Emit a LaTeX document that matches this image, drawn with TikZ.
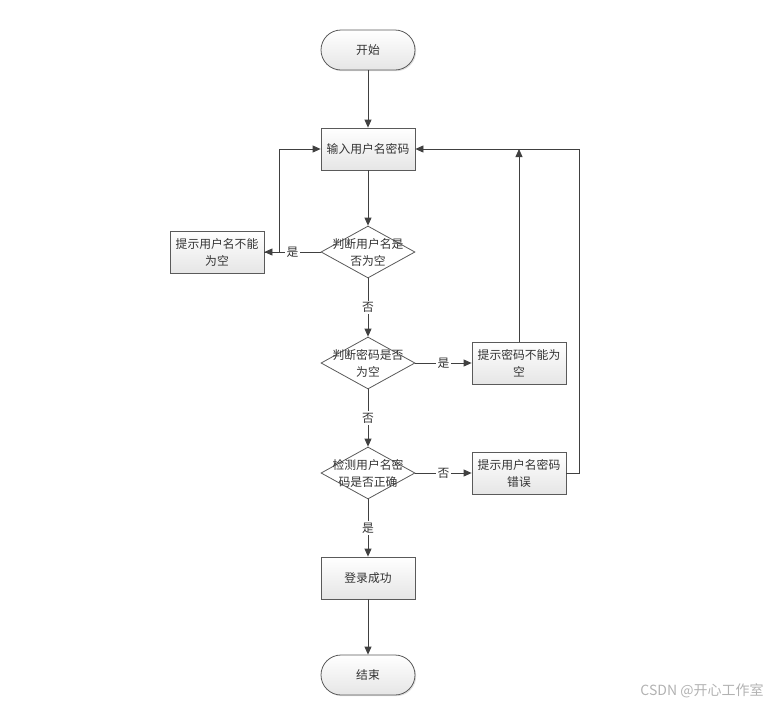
\documentclass[tikz,border=0pt]{standalone}
\usepackage{fontspec}
\setmainfont{Noto Sans CJK SC}
\usetikzlibrary{shapes.geometric,arrows.meta,shadows}

\definecolor{linegray}{HTML}{404040}
\definecolor{boxgray}{HTML}{5A5A5A}
\definecolor{txtgray}{HTML}{333333}

\begin{document}
\begin{tikzpicture}[>={Triangle[width=7pt,length=8pt]}, line width=0.8pt, draw=linegray,
  every node/.style={font=\fontsize{11.8pt}{17pt}\selectfont, text=txtgray},
  proc/.style={rectangle, draw=boxgray, top color=white, bottom color=black!10, minimum width=94pt, minimum height=42pt, align=center, inner sep=1pt, drop shadow={opacity=0.25, shadow xshift=1.2pt, shadow yshift=-1.2pt}},
  term/.style={proc, rounded corners=20pt, minimum height=40pt},
  decide/.style={diamond, draw=boxgray, fill=white, minimum width=94pt, minimum height=52pt, inner sep=0pt},
  lbl/.style={fill=white, inner sep=1.5pt}]
\useasboundingbox (0pt, 0pt) rectangle (772pt, -705pt);
\draw (368.0pt, -50.0pt)node[term](start){开始};
\draw (368.0pt, -149.0pt)node[proc](input){输入用户名密码};
\draw (368.0pt, -252.0pt)node[decide, label={[align=center]center:判断用户名是\\否为空}](chkname){};
\draw (217.0pt, -252.0pt)node[proc](noname){提示用户名不能\\为空};
\draw (368.0pt, -363.0pt)node[decide, label={[align=center]center:判断密码是否\\为空}](chkpwd){};
\draw (519.0pt, -363.0pt)node[proc](nopwd){提示密码不能为\\空};
\draw (368.0pt, -473.0pt)node[decide, label={[align=center]center:检测用户名密\\码是否正确}](chkok){};
\draw (519.0pt, -473.0pt)node[proc](wrong){提示用户名密码\\错误};
\draw (368.0pt, -578.0pt)node[proc](success){登录成功};
\draw (368.0pt, -675.0pt)node[term](finish){结束};
\path[->] (start) edge (input);
\path[->] (input) edge (chkname);
\path[->] (chkname) edge node[lbl]{是}(noname);
\path[->] (chkname) edge node[lbl]{否}(chkpwd);
\path[->] (chkpwd) edge node[lbl]{是}(nopwd);
\path[->] (chkpwd) edge node[lbl]{否}(chkok);
\path[->] (chkok) edge node[lbl]{否}(wrong);
\path[->] (chkok) edge node[lbl]{是}(success);
\path[->] (success) edge (finish);
% loops back to input
\draw[->] (noname.east) -- ++(15pt, 0pt) |- (input.west);
\draw[->] (nopwd.north) -- (nopwd.north |- input.east);
\draw[->] (wrong.east) -- ++(13pt, 0pt) |- (input.east);
% watermark
\draw (702.0pt, -691.0pt)node[text=black!30, font=\fontsize{14pt}{16pt}\selectfont](mark){CSDN @开心工作室};
\end{tikzpicture}
\end{document}
